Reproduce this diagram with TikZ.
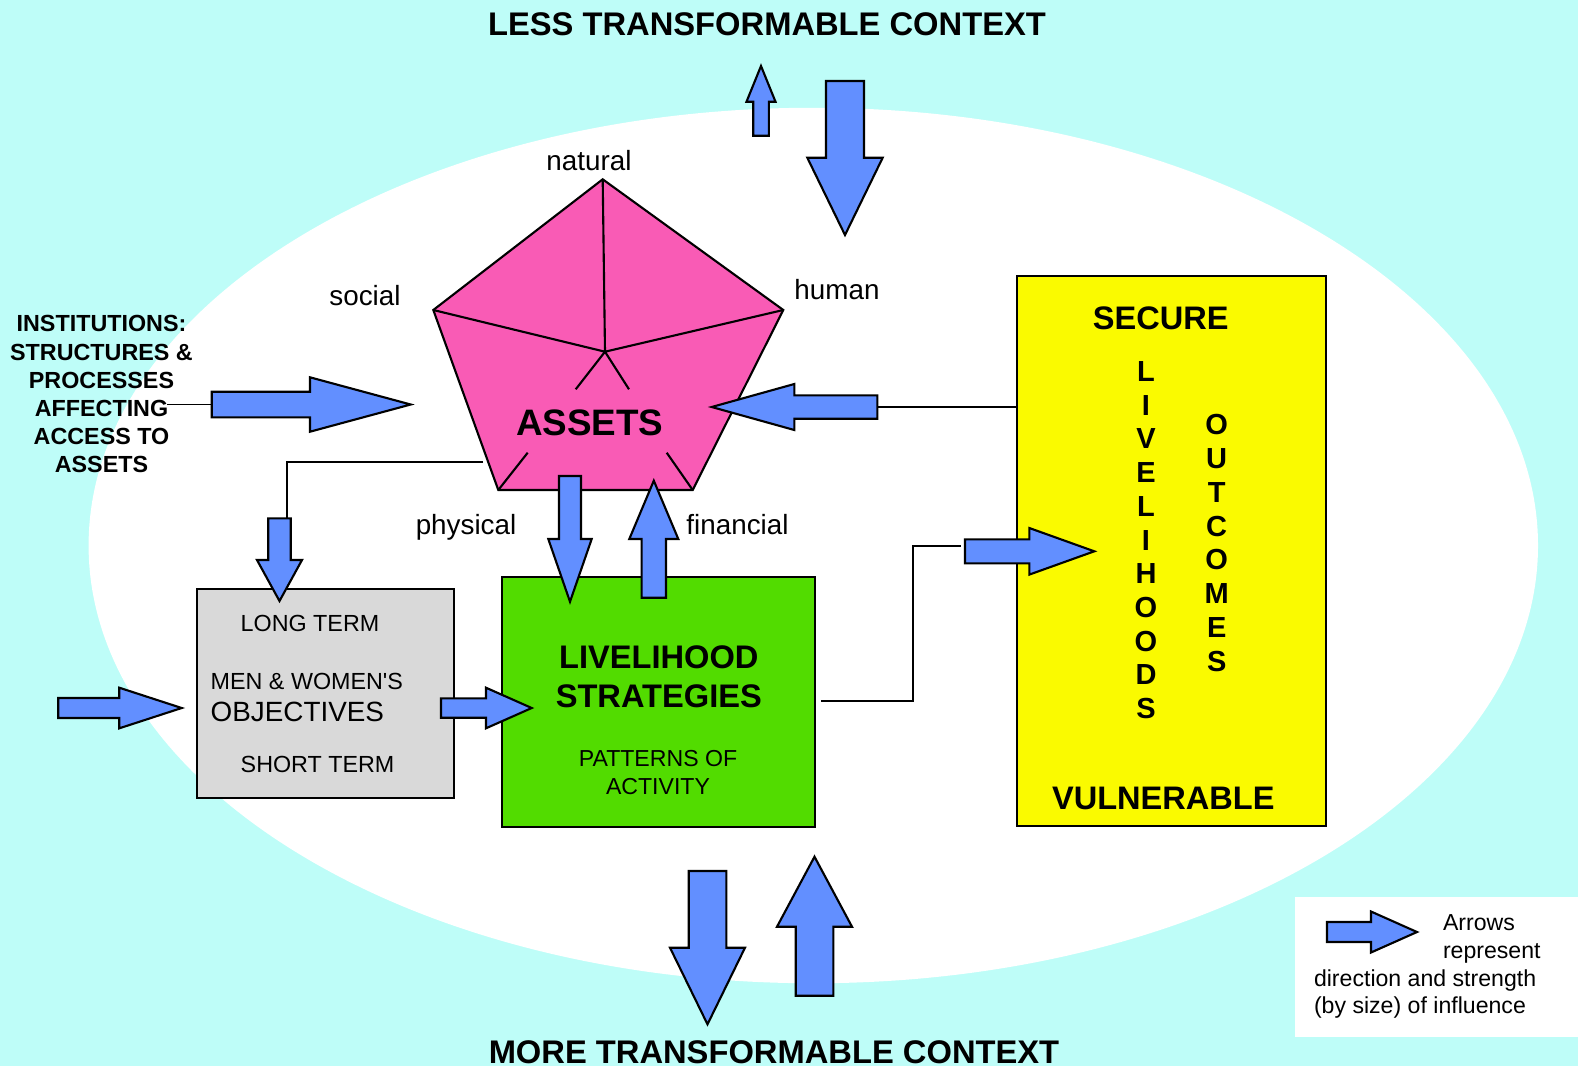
\documentclass[tikz,border=0pt]{standalone}
\usepackage{fontspec}
\setmainfont{Liberation Sans}
\usetikzlibrary{calc}

\definecolor{bgcyan}{HTML}{BEFDF8}
\definecolor{assetpink}{HTML}{F95BB5}
\definecolor{stratgreen}{HTML}{52DC00}
\definecolor{outyellow}{HTML}{FAFA00}
\definecolor{objgray}{HTML}{D9D9D9}
\definecolor{arrowblue}{HTML}{628FFF}

\tikzset{
  blockarrow/.style={fill=arrowblue, draw=black, line width=0.6pt},
  link/.style={draw=black, line width=0.5pt},
  box/.style={draw=black, line width=0.6pt, inner sep=0pt},
  context/.style={font=\fontsize{9.3}{11}\selectfont\bfseries},
  tag/.style={font=\fontsize{7.91}{9.5}\selectfont, anchor=base},
  boxtext/.style={font=\fontsize{6.63}{8}\selectfont, inner sep=0pt, anchor=base west},
  outtext/.style={font=\fontsize{9.26}{11}\selectfont\bfseries},
  column/.style={font=\fontsize{8.25}{9.59}\selectfont\bfseries, align=center},
}

% block arrows: tail, head base, tip, axis, shaft half width, head half width
\newcommand{\hblock}[6]{%
  \filldraw[blockarrow] (#1,#4-#5) -- (#2,#4-#5) -- (#2,#4-#6) -- (#3,#4)
    -- (#2,#4+#6) -- (#2,#4+#5) -- (#1,#4+#5) -- cycle;}
\newcommand{\vblock}[6]{%
  \filldraw[blockarrow] (#4-#5,#1) -- (#4-#5,#2) -- (#4-#6,#2) -- (#4,#3)
    -- (#4+#6,#2) -- (#4+#5,#2) -- (#4+#5,#1) -- cycle;}

\begin{document}
\begin{tikzpicture}[x=0.01cm, y=-0.01cm]
  \useasboundingbox (0,0) rectangle (1578,1066);
  \clip (0,0) rectangle (1578,1066);

  % background
  \fill[bgcyan] (0,0) rectangle (1578,1066);
  \fill[white] (813.3,545.5) ellipse [x radius=7.243cm, y radius=4.375cm];
  \fill[white] (1295,897) rectangle (1578,1037);

  \node[context] (less) at (767,24) {LESS TRANSFORMABLE CONTEXT};
  \node[context] (more) at (774,1052) {MORE TRANSFORMABLE CONTEXT};

  % assets pentagon
  \coordinate (nat) at (602.7,179.3);
  \coordinate (soc) at (433.3,310);
  \coordinate (hum) at (783.3,310);
  \coordinate (phy) at (498.3,490);
  \coordinate (fin) at (692.7,490);
  \coordinate (ctr) at (605,351.7);
  \filldraw[fill=assetpink, line width=0.6pt] (nat) -- (hum) -- (fin) -- (phy) -- (soc) -- cycle;
  \draw[line width=0.6pt] (soc) -- (ctr) -- (hum) (ctr) -- (nat)
    (ctr) -- (575.7,389.3) (ctr) -- (629,389.3)
    (phy) -- (527.7,452.7) (fin) -- (666.7,452.7);

  \node[tag] (natural) at (589,170.7) {natural};
  \node[tag] (social) at (365,305) {social};
  \node[tag] (human) at (837,299.3) {human};
  \node[tag] (physical) at (466,534) {physical};
  \node[tag] (financial) at (737.5,534) {financial};

  % boxes
  \node[box, fill=objgray, minimum width=2.576cm, minimum height=2.093cm] (objectives) at (325.5,693.7) {};
  \node[box, fill=stratgreen, minimum width=3.133cm, minimum height=2.5cm] (strategies) at (658.3,701.7) {};
  \node[box, fill=outyellow, minimum width=3.09cm, minimum height=5.503cm] (outcomes) at (1171.2,550.9) {};

  % institutions into assets
  \coordinate (instEnd) at (167,404.5);
  \coordinate (instTail) at (211.7,404.5);
  \draw[link] (instEnd) -- (instTail);
  \hblock{211.7}{310}{410.7}{404.5}{12.8}{27.2}

  % assets to objectives
  \coordinate (pentOut) at (483,461.7);
  \coordinate (objIn) at (287.3,518.3);
  \draw[link] (pentOut) -| (objIn);
  \vblock{518.3}{560}{601}{279.5}{11.2}{22.5}

  % outcomes back to assets
  \coordinate (backTail) at (877.3,407);
  \draw[link] (outcomes.west |- backTail) -- (backTail);
  \hblock{877.3}{794.3}{711.7}{407}{11.7}{23}

  % objectives and strategies
  \hblock{58.3}{119.3}{181.7}{708}{10}{20.3}
  \hblock{441}{486}{531.7}{708}{9.7}{20.3}

  % assets and strategies
  \vblock{476}{539}{601.7}{570}{11}{21.7}
  \vblock{597.7}{539}{480.7}{653.8}{12.2}{24.5}

  % strategies to outcomes
  \coordinate (stratOut) at (821,700.7);
  \coordinate (bend) at (913.3,620);
  \coordinate (outTail) at (961,545.7);
  \draw[link] (stratOut) -| (bend) |- (outTail);
  \hblock{965}{1029.3}{1094.3}{551.3}{12}{23.3}

  % context arrows
  \vblock{135.7}{101.7}{66}{761}{7.8}{14.5}
  \vblock{81}{157.7}{235}{845}{19}{37.7}
  \vblock{871}{947.7}{1024.3}{707.5}{18.8}{37.5}
  \vblock{995.7}{926.7}{856.7}{814.5}{18.8}{37.5}

  % texts
  \node[font=\fontsize{6.63}{8}\selectfont\bfseries, align=center] (institutions) at (101.5,394.2)
    {INSTITUTIONS:\\STRUCTURES \&\\PROCESSES\\AFFECTING\\ACCESS TO\\ASSETS};
  \node[font=\fontsize{10.47}{12}\selectfont\bfseries] (assets) at (589.7,422.7) {ASSETS};

  \node[boxtext] (longterm) at (240,631.6) {LONG TERM};
  \node[boxtext] (menwomen) at (210,689) {MEN \& WOMEN\textquotesingle S};
  \node[boxtext, font=\fontsize{7.92}{9.5}\selectfont] (objtitle) at (210,721.7) {OBJECTIVES};
  \node[boxtext] (shortterm) at (240,772.3) {SHORT TERM};

  \node[font=\fontsize{9.28}{11}\selectfont\bfseries, align=center] (strattitle) at (658.8,676.7) {LIVELIHOOD\\STRATEGIES};
  \node[font=\fontsize{6.57}{7.88}\selectfont, align=center] (patterns) at (658,772.8) {PATTERNS OF\\ACTIVITY};

  \node[outtext] (secure) at (1160.8,318.3) {SECURE};
  \node[outtext] (vulnerable) at (1163.3,798.3) {VULNERABLE};
  \node[column] (livelihoods) at (1146,540.2) {L\\I\\V\\E\\L\\I\\H\\O\\O\\D\\S};
  \node[column] (outcomeword) at (1216.7,543) {O\\U\\T\\C\\O\\M\\E\\S};

  % legend
  \hblock{1327}{1371}{1417}{932}{10}{20.5}
  \node[boxtext, font=\fontsize{6.57}{7.9}\selectfont] (legend1) at (1442.3,930) {Arrows};
  \node[boxtext, font=\fontsize{6.57}{7.9}\selectfont] (legend2) at (1442.3,958.3) {represent};
  \node[boxtext, font=\fontsize{6.57}{7.9}\selectfont] (legend3) at (1313.3,986.7) {direction and strength};
  \node[boxtext, font=\fontsize{6.57}{7.9}\selectfont] (legend4) at (1313.3,1013.3) {(by size) of influence};
\end{tikzpicture}
\end{document}
